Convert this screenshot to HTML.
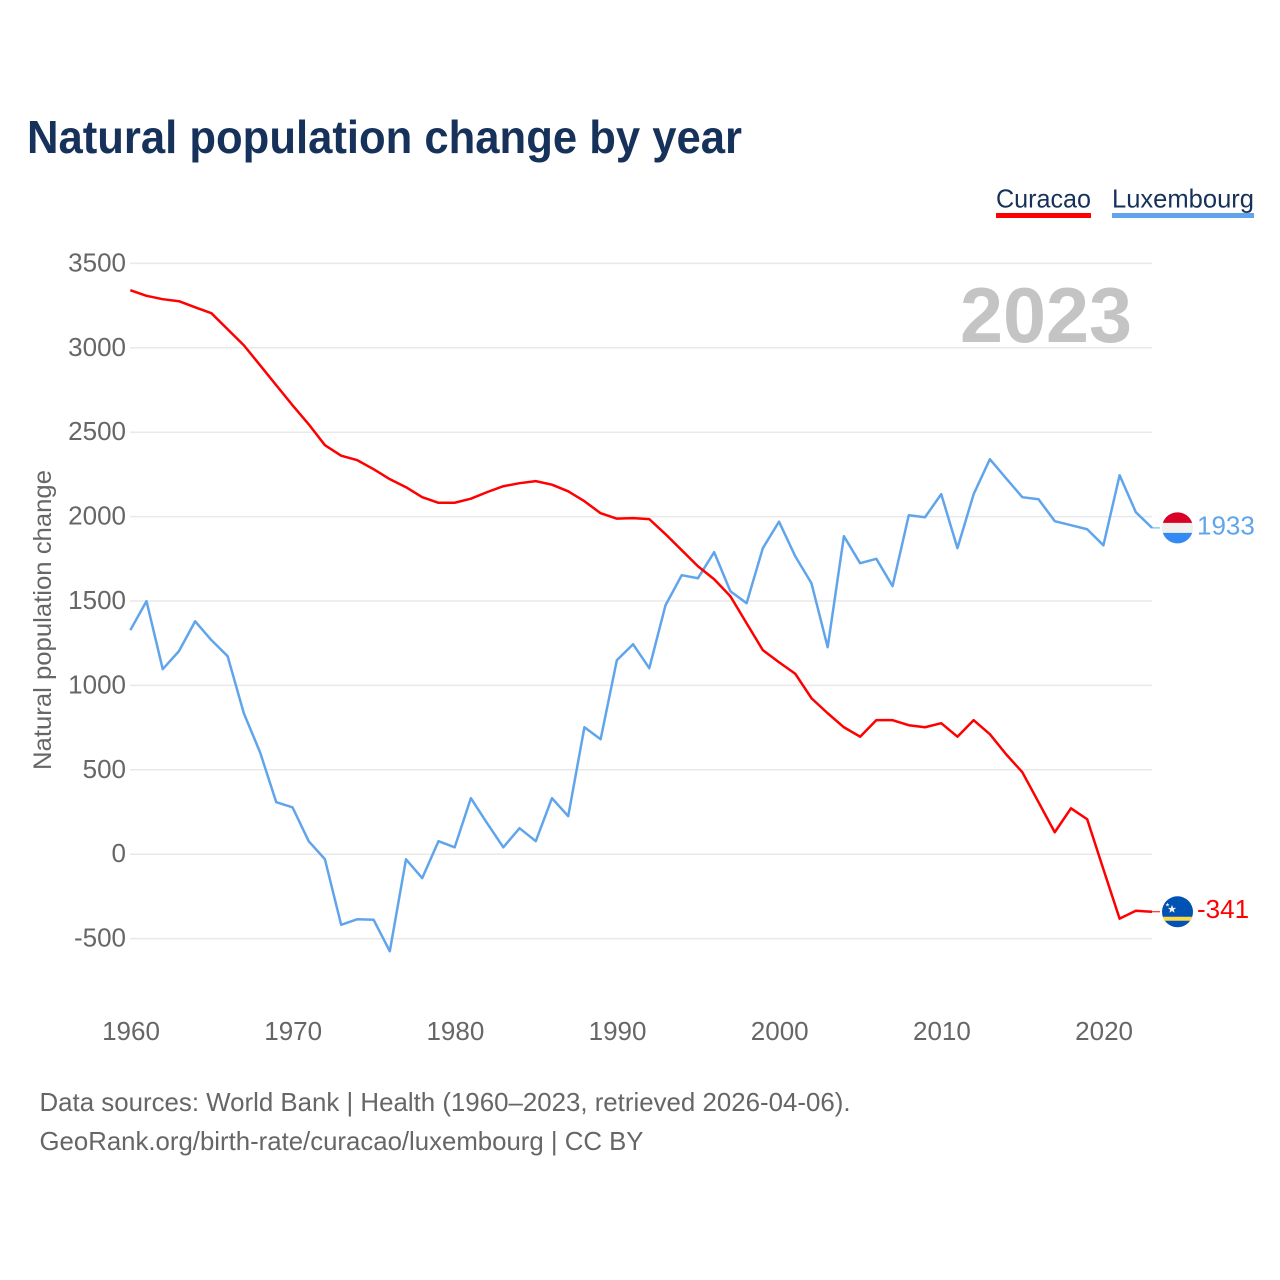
<!DOCTYPE html>
<html lang="en">
<head>
<meta charset="utf-8">
<title>Natural population change by year</title>
<style>
html,body{margin:0;padding:0;background:#fff;}
svg{display:block;font-family:"Liberation Sans",sans-serif;}
</style>
</head>
<body>
<svg id="chart" xmlns="http://www.w3.org/2000/svg" width="1280" height="1280" viewBox="0 0 1280 1280">
  <rect width="1280" height="1280" fill="#ffffff"/>
  <text x="27" y="153" font-size="46" font-weight="700" fill="#17325a" textLength="715" lengthAdjust="spacingAndGlyphs">Natural population change by year</text>
  <g>
    <text x="996" y="207.5" font-size="26" fill="#17325a" textLength="95" lengthAdjust="spacingAndGlyphs">Curacao</text>
    <rect x="996" y="213" width="95" height="5" fill="#ff0000"/>
  </g>
  <g>
    <text x="1112" y="207.5" font-size="26" fill="#17325a" textLength="142" lengthAdjust="spacingAndGlyphs">Luxembourg</text>
    <rect x="1112" y="213" width="142" height="5" fill="#60a5ec"/>
  </g>
  <g id="grid"></g>
  <g id="yticks"></g>
  <g id="xticks"></g>
  <text transform="translate(51,770) rotate(-90)" font-size="25" fill="#666666" textLength="300" lengthAdjust="spacingAndGlyphs">Natural population change</text>
  <text x="960" y="342" font-size="78" font-weight="700" fill="#c4c4c4" textLength="172" lengthAdjust="spacingAndGlyphs">2023</text>
  <g id="series"></g>
  <g id="ends"></g>
  <text x="39.5" y="1111" font-size="26" fill="#666666" textLength="811" lengthAdjust="spacingAndGlyphs">Data sources: World Bank | Health (1960–2023, retrieved 2026-04-06).</text>
  <text x="39.5" y="1150" font-size="26" fill="#666666" textLength="604" lengthAdjust="spacingAndGlyphs">GeoRank.org/birth-rate/curacao/luxembourg | CC BY</text>
</svg>
<script>
const startYear = 1960;
const yTickValues = [-500, 0, 500, 1000, 1500, 2000, 2500, 3000, 3500];
const xTickValues = [1960, 1970, 1980, 1990, 2000, 2010, 2020];
const curacaoValues = [3341,3308,3288,3276,3240,3205,3110,3015,2897,2778,2660,2547,2423,2361,2334,2281,2222,2174,2115,2082,2082,2106,2145,2180,2198,2210,2189,2150,2091,2020,1988,1991,1985,1896,1801,1706,1629,1528,1368,1209,1137,1069,924,835,752,696,794,794,764,752,776,696,794,711,592,486,308,130,272,207,-89,-382,-335,-341];
const luxembourgValues = [1327,1499,1096,1203,1380,1268,1173,835,604,308,278,77,-30,-418,-385,-388,-575,-30,-142,77,41,332,184,41,154,77,332,225,752,681,1149,1244,1102,1475,1653,1635,1789,1558,1487,1813,1970,1765,1605,1226,1884,1724,1750,1588,2008,1996,2133,1813,2133,2340,2227,2115,2103,1973,1949,1925,1830,2245,2026,1933];

const NS = 'http://www.w3.org/2000/svg';
const xScale = function (year) { return 130.3 + (year - 1960) * (1103.4 - 130.3) / 60; };
const yScale = function (value) { return 854.2 - value * 0.1688; };
const make = function (tag, parent) {
  const el = document.createElementNS(NS, tag);
  parent.appendChild(el);
  return el;
};
const set = function (el, attrs) {
  Object.keys(attrs).forEach(function (k) { el.setAttribute(k, attrs[k]); });
};

const gridGroup = document.getElementById('grid');
const yGroup = document.getElementById('yticks');
yTickValues.forEach(function (v) {
  const line = make('line', gridGroup);
  
  
  set(line, {x1: 130, x2: 1152, y1: yScale(v), y2: yScale(v), stroke: '#e9e9e9', 'stroke-width': 1.5});
  const label = make('text', yGroup);
  
  
  set(label, {x: 126, y: yScale(v) + 8, 'text-anchor': 'end', 'font-size': 26, fill: '#666666'});
  label.textContent = String(v);
});

const xGroup = document.getElementById('xticks');
xTickValues.forEach(function (yr) {
  const label = make('text', xGroup);
  
  
  set(label, {x: xScale(yr) + 0.7, y: 1040, 'text-anchor': 'middle', 'font-size': 26, fill: '#666666'});
  label.textContent = String(yr);
});

const seriesGroup = document.getElementById('series');
const pathFor = function (values) {
  return values.map(function (v, i) {
    return (i ? 'L' : 'M') + xScale(startYear + i).toFixed(2) + ' ' + yScale(v).toFixed(2);
  }).join(' ');
};
const luxLine = make('path', seriesGroup);


set(luxLine, {d: pathFor(luxembourgValues), fill: 'none', stroke: '#60a5ec', 'stroke-width': 2.5, 'stroke-linejoin': 'round'});
const curLine = make('path', seriesGroup);


set(curLine, {d: pathFor(curacaoValues), fill: 'none', stroke: '#ff0000', 'stroke-width': 2.5, 'stroke-linejoin': 'round'});

const endsGroup = document.getElementById('ends');
const lastX = xScale(startYear + curacaoValues.length - 1);
const lastLux = luxembourgValues[luxembourgValues.length - 1];
const lastCur = curacaoValues[curacaoValues.length - 1];

/* Luxembourg end marker */
const luxY = yScale(lastLux);
const luxConn = make('line', endsGroup);


set(luxConn, {x1: lastX, x2: 1160, y1: luxY, y2: luxY, stroke: '#60a5ec', 'stroke-width': 1});
const luxFlag = make('g', endsGroup);


set(luxFlag, {transform: 'translate(1177.5,' + luxY + ')'});
const luxBase = make('circle', luxFlag);
set(luxBase, {r: 15.5, fill: '#f0f0f0'});
const luxRed = make('path', luxFlag);
set(luxRed, {d: 'M-14.67 -5 A15.5 15.5 0 0 1 14.67 -5 Z', fill: '#d80027'});
const luxBlue = make('path', luxFlag);
set(luxBlue, {d: 'M-14.67 5 A15.5 15.5 0 0 0 14.67 5 Z', fill: '#338af3'});
const luxText = make('text', endsGroup);


set(luxText, {x: 1197, y: luxY + 6.5, 'font-size': 26, fill: '#60a5ec'});
luxText.textContent = String(lastLux);

/* Curacao end marker */
const curY = yScale(lastCur);
const curConn = make('line', endsGroup);


set(curConn, {x1: lastX, x2: 1160, y1: curY, y2: curY, stroke: '#ff0000', 'stroke-width': 1});
const curFlag = make('g', endsGroup);


set(curFlag, {transform: 'translate(1177.5,' + curY + ')'});
const curBase = make('circle', curFlag);
set(curBase, {r: 15.5, fill: '#0052b4'});
const curBand = make('path', curFlag);
set(curBand, {d: 'M-14.6 5 L14.6 5 L13.2 9 L-13.2 9 Z', fill: '#ffda44'});
const bigStar = make('polygon', curFlag);
set(bigStar, {points: '-5.5,-7 -4.4,-3.9 -1.3,-3.9 -3.7,-2 -2.9,1 -5.5,-0.8 -8.1,1 -7.3,-2 -9.7,-3.9 -6.6,-3.9', fill: '#f0f0f0'});
const smallStar = make('polygon', curFlag);
set(smallStar, {points: '-10,-9 -9.4,-7.6 -8,-7.6 -9.1,-6.7 -8.7,-5.3 -10,-6.1 -11.3,-5.3 -10.9,-6.7 -12,-7.6 -10.6,-7.6', fill: '#f0f0f0'});
const curText = make('text', endsGroup);


set(curText, {x: 1197, y: curY + 6, 'font-size': 26, fill: '#ff0000'});
curText.textContent = String(lastCur);
</script>
</body>
</html>
